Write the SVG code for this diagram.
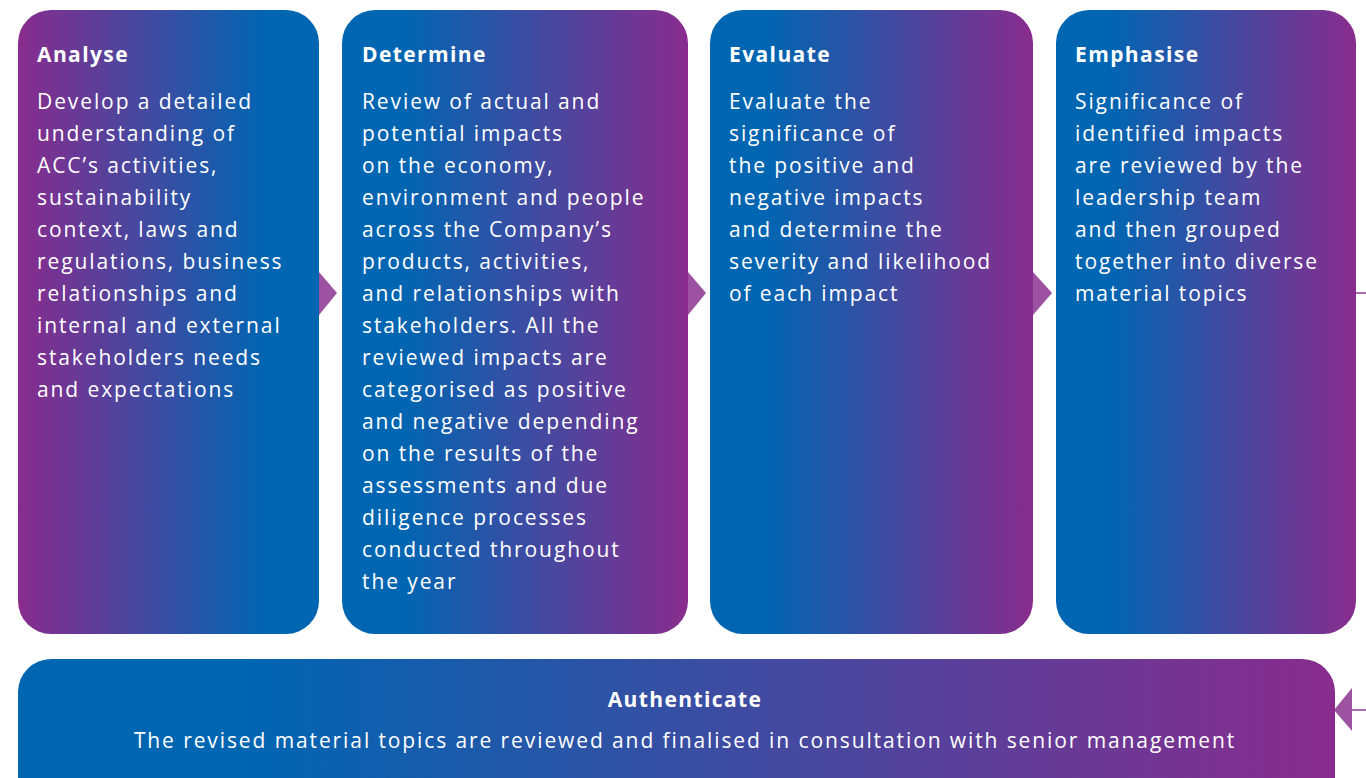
<svg xmlns="http://www.w3.org/2000/svg" width="1366" height="778" viewBox="0 0 1366 778">
<defs>
<linearGradient id="gPB" x1="0" y1="0" x2="1" y2="0">
<stop offset="0" stop-color="#892C8D"/>
<stop offset="0.83" stop-color="#0066B2"/>
<stop offset="1" stop-color="#0066B2"/>
</linearGradient>
<linearGradient id="gBP" x1="0" y1="0" x2="1" y2="0">
<stop offset="0" stop-color="#0066B2"/>
<stop offset="0.17" stop-color="#0066B2"/>
<stop offset="1" stop-color="#892C8D"/>
</linearGradient>
<style>
.t{font-family:"Open Sans","Liberation Sans",sans-serif;fill:#fff;font-size:21px;letter-spacing:1.9px}
.h{font-family:"Open Sans","Liberation Sans",sans-serif;fill:#fff;font-size:21px;font-weight:bold;letter-spacing:1.4px}
.arr{fill:#9C52A1}
.ln{stroke:#8E3C93;stroke-width:1.5;fill:none}
</style>
</defs>
<g id="connectors">
<polygon class="arr" points="319,272 337,293 319,315"/>
<polygon class="arr" points="688,272 706,293 688,315"/>
<polygon class="arr" points="1033,272 1052,293 1033,315"/>
<line class="ln" x1="1355" y1="293" x2="1366" y2="293"/>
<polygon class="arr" points="1352,688 1334,710 1352,731"/>
<line class="ln" x1="1352" y1="710" x2="1366" y2="710"/>
</g>
<g id="analyse">
<rect x="18" y="10" width="301" height="624" rx="33" fill="url(#gPB)"/>
<text class="h" x="37" y="62">Analyse</text>
<text class="t">
<tspan x="37" y="109">Develop a detailed</tspan>
<tspan x="37" y="141">understanding of</tspan>
<tspan x="37" y="173">ACC’s activities,</tspan>
<tspan x="37" y="205">sustainability</tspan>
<tspan x="37" y="237">context, laws and</tspan>
<tspan x="37" y="269">regulations, business</tspan>
<tspan x="37" y="301">relationships and</tspan>
<tspan x="37" y="333">internal and external</tspan>
<tspan x="37" y="365">stakeholders needs</tspan>
<tspan x="37" y="397">and expectations</tspan>
</text>
</g>
<g id="determine">
<rect x="342" y="10" width="346" height="624" rx="33" fill="url(#gBP)"/>
<text class="h" x="362" y="62">Determine</text>
<text class="t">
<tspan x="362" y="109">Review of actual and</tspan>
<tspan x="362" y="141">potential impacts</tspan>
<tspan x="362" y="173">on the economy,</tspan>
<tspan x="362" y="205">environment and people</tspan>
<tspan x="362" y="237">across the Company’s</tspan>
<tspan x="362" y="269">products, activities,</tspan>
<tspan x="362" y="301">and relationships with</tspan>
<tspan x="362" y="333">stakeholders. All the</tspan>
<tspan x="362" y="365">reviewed impacts are</tspan>
<tspan x="362" y="397">categorised as positive</tspan>
<tspan x="362" y="429">and negative depending</tspan>
<tspan x="362" y="461">on the results of the</tspan>
<tspan x="362" y="493">assessments and due</tspan>
<tspan x="362" y="525">diligence processes</tspan>
<tspan x="362" y="557">conducted throughout</tspan>
<tspan x="362" y="589">the year</tspan>
</text>
</g>
<g id="evaluate">
<rect x="710" y="10" width="323" height="624" rx="33" fill="url(#gBP)"/>
<text class="h" x="729" y="62">Evaluate</text>
<text class="t">
<tspan x="729" y="109">Evaluate the</tspan>
<tspan x="729" y="141">significance of</tspan>
<tspan x="729" y="173">the positive and</tspan>
<tspan x="729" y="205">negative impacts</tspan>
<tspan x="729" y="237">and determine the</tspan>
<tspan x="729" y="269">severity and likelihood</tspan>
<tspan x="729" y="301">of each impact</tspan>
</text>
</g>
<g id="emphasise">
<rect x="1056" y="10" width="300" height="624" rx="33" fill="url(#gBP)"/>
<text class="h" x="1075" y="62">Emphasise</text>
<text class="t">
<tspan x="1075" y="109">Significance of</tspan>
<tspan x="1075" y="141">identified impacts</tspan>
<tspan x="1075" y="173">are reviewed by the</tspan>
<tspan x="1075" y="205">leadership team</tspan>
<tspan x="1075" y="237">and then grouped</tspan>
<tspan x="1075" y="269">together into diverse</tspan>
<tspan x="1075" y="301">material topics</tspan>
</text>
</g>
<g id="authenticate">
<rect x="18" y="659" width="1317" height="160" rx="33" fill="url(#gBP)"/>
<text class="h" x="685" y="707" text-anchor="middle">Authenticate</text>
<text class="t" x="685" y="748" text-anchor="middle">The revised material topics are reviewed and finalised in consultation with senior management</text>
</g>
</svg>
